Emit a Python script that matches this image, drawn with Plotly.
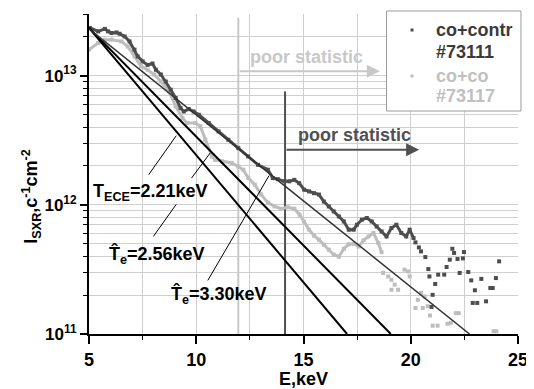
import numpy as np
import plotly.graph_objects as go

# ---------------- data ----------------
# co+contr #73111 (dark): dense part
dark_E = [5.05, 5.43, 5.74, 5.89, 6.05, 6.28, 6.43, 6.66, 6.89, 7.12, 7.27, 7.50, 7.73, 7.96,
          8.12, 8.35, 8.58, 8.81, 9.04, 9.27, 9.42, 9.65, 9.88, 10.12, 10.58, 11.04, 11.50,
          11.96, 12.42, 12.88, 13.34, 13.57, 13.80, 14.11, 14.34, 14.57, 14.80, 15.03, 15.26,
          15.49, 15.72, 15.95, 16.18, 16.41, 16.65, 16.88, 17.11, 17.34, 17.49, 17.72, 17.95,
          18.18, 18.41, 18.64, 18.87, 19.10, 19.33, 19.56, 19.79, 19.95, 20.13]
dark_I = [2.34e13, 2.20e13, 2.30e13, 2.20e13, 2.14e13, 2.16e13, 2.11e13, 2.01e13, 1.84e13,
          1.59e13, 1.41e13, 1.29e13, 1.21e13, 1.24e13, 1.11e13, 1.02e13, 9.0e12, 7.78e12,
          6.71e12, 5.61e12, 5.28e12, 5.51e12, 5.28e12, 4.98e12, 4.30e12, 3.70e12, 3.19e12,
          2.75e12, 2.37e12, 2.04e12, 1.87e12, 1.61e12, 1.58e12, 1.52e12, 1.52e12, 1.56e12,
          1.47e12, 1.31e12, 1.27e12, 1.23e12, 1.20e12, 1.06e12, 9.72e11, 8.89e11, 8.13e11,
          7.44e11, 6.42e11, 6.42e11, 7.01e11, 7.67e11, 7.91e11, 7.44e11, 6.80e11, 6.22e11,
          5.69e11, 6.61e11, 7.01e11, 6.05e11, 5.69e11, 6.42e11, 5.53e11]
# dark: scattered tail
dark_tail_E = [20.22, 20.38, 20.48, 20.68, 20.82, 20.87, 21.14, 21.02, 20.97, 21.28, 21.56,
               21.67, 21.82, 21.94, 22.02, 22.18, 22.43, 22.48, 22.28, 22.68, 22.82, 22.99,
               22.89, 23.10, 23.29, 23.51, 23.71, 23.82, 23.97, 24.12]
dark_tail_I = [5.12e11, 4.68e11, 4.36e11, 3.94e11, 3.18e11, 2.79e11, 2.44e11, 2.01e11, 1.62e11,
               2.88e11, 2.88e11, 3.30e11, 3.76e11, 4.57e11, 4.24e11, 3.81e11, 3.85e11, 4.31e11,
               2.97e11, 3.02e11, 2.60e11, 2.18e11, 1.74e11, 1.74e11, 2.67e11, 1.79e11, 2.27e11,
               2.27e11, 2.71e11, 3.65e11]

# co+co #73117 (light): dense part
light_E = [5.0, 5.43, 5.74, 6.05, 6.51, 6.81, 7.12, 7.43, 7.73, 8.04, 8.35, 8.73, 9.04, 9.35,
           9.58, 9.96, 10.19, 10.42, 10.73, 10.88, 11.19, 11.65, 11.96, 12.19, 12.42, 12.73,
           13.03, 13.34, 13.65, 13.95, 14.26, 14.57, 14.82, 15.03, 15.26, 15.49, 15.72, 15.95,
           16.18, 16.41, 16.65, 16.88, 17.11, 17.34, 17.57, 17.80, 18.03, 18.26, 18.49, 18.64]
light_I = [1.59e13, 1.79e13, 1.90e13, 1.90e13, 1.84e13, 1.68e13, 1.41e13, 1.18e13, 1.11e13,
           1.02e13, 9.0e12, 7.55e12, 5.78e12, 4.70e12, 4.30e12, 4.30e12, 4.05e12, 3.19e12,
           2.37e12, 2.23e12, 2.17e12, 2.11e12, 1.98e12, 1.87e12, 1.62e12, 1.43e12, 1.20e12,
           1.04e12, 9.72e11, 9.33e11, 9.58e11, 9.33e11, 8.38e11, 7.40e11, 6.42e11, 5.77e11,
           5.37e11, 4.91e11, 4.49e11, 4.11e11, 3.97e11, 4.57e11, 4.95e11, 5.00e11, 4.76e11,
           5.32e11, 5.69e11, 6.05e11, 5.06e11, 4.30e11]
light_tail_E = [18.71, 18.95, 19.10, 19.25, 19.41, 19.10, 19.71, 19.87, 19.95, 20.22, 20.33,
                20.48, 20.64, 20.56, 20.79, 20.90, 21.02, 21.25, 21.71, 21.87, 22.10, 22.24,
                23.86, 23.99]
light_tail_I = [2.97e11, 2.79e11, 2.63e11, 2.41e11, 2.20e11, 2.20e11, 3.15e11, 3.05e11, 2.79e11,
                1.59e11, 1.84e11, 2.08e11, 1.95e11, 1.59e11, 1.64e11, 1.39e11, 1.16e11, 1.16e11,
                1.20e11, 1.22e11, 1.45e11, 1.45e11, 1.05e11, 1.05e11]

# exponential fits (end points of the straight lines on the log plot)
fit_names = ["T_ECE=2.21keV", "T_e=2.56keV", "T_e=3.30keV"]
fit_E = [[5.0, 17.03], [5.0, 19.07], [5.0, 22.74]]
fit_I = [[2.34e13, 1e11], [2.34e13, 1e11], [2.30e13, 1e11]]

# label leader lines
pointer_E = [[7.78, 9.07], [8.00, 9.07], [9.78, 10.65], [10.54, 13.39]]
pointer_I = [[1.71e12, 3.43e12], [5.69e11, 1.01e12], [1.61e12, 2.52e12], [2.60e11, 1.68e12]]

# "poor statistic" markers
poor_dark_E, poor_dark_Itop, poor_dark_arrowI, poor_dark_arrowE = 14.14, 7.55e12, 2.67e12, 20.39
poor_light_E, poor_light_Itop, poor_light_arrowI, poor_light_arrowE = 11.96, 2.81e13, 1.08e13, 18.56

x_ticks = [5, 10, 15, 20, 25]
x_minor = [7.5, 12.5, 17.5, 22.5]
y_ticks = [1e11, 1e12, 1e13]
y_ticktext = ["<b>10<sup>11</sup></b>", "<b>10<sup>12</sup></b>", "<b>10<sup>13</sup></b>"]
y_minor = [m * 10 ** d for d in (11, 12) for m in range(2, 10)] + [2e13, 3e13]

DARK = "#4d4d4d"
LIGHT = "#bdbdbd"
GRID = "#cfcfcf"
FONT = "Liberation Sans"

# ---------------- figure ----------------
# page has an 8px body margin; plot area in page pixels: x 89..523, y 14..334
OFF = 8
PL, PR, PT, PB = 89, 523, 14, 334
W, H = 534 - OFF, 389 - OFF
PW, PH = PR - PL, PB - PT


def px(x):
    return (x - PL) / PW


def py(y):
    return (PB - y) / PH


def label(x, y, text, color, xanchor="center", **kw):
    return dict(x=px(x), y=py(y), xref="paper", yref="paper", xanchor=xanchor,
                yanchor="middle", text=text, showarrow=False,
                font=dict(family=FONT, size=18, weight="bold", color=color), **kw)


fig = go.Figure()

# poor-statistic vertical lines
fig.add_trace(go.Scatter(x=[poor_light_E, poor_light_E], y=[poor_light_Itop, 1e11], mode="lines",
                         line=dict(color="#c8c8c8", width=2), showlegend=False, hoverinfo="skip"))
fig.add_trace(go.Scatter(x=[poor_dark_E, poor_dark_E], y=[poor_dark_Itop, 1e11], mode="lines",
                         line=dict(color="#505050", width=2), showlegend=False, hoverinfo="skip"))

# data
fig.add_trace(go.Scatter(x=light_E, y=light_I, mode="lines+markers", name="co+co #73117",
                         line=dict(color=LIGHT, width=3),
                         marker=dict(symbol="square", size=4, color=LIGHT),
                         legendgroup="b", showlegend=False))
fig.add_trace(go.Scatter(x=light_tail_E, y=light_tail_I, mode="markers", name="co+co #73117",
                         marker=dict(symbol="square", size=4, color=LIGHT),
                         legendgroup="b", showlegend=False))
fig.add_trace(go.Scatter(x=dark_E, y=dark_I, mode="lines+markers", name="co+contr #73111",
                         line=dict(color=DARK, width=3),
                         marker=dict(symbol="square", size=4, color=DARK),
                         legendgroup="a", showlegend=False))
fig.add_trace(go.Scatter(x=dark_tail_E, y=dark_tail_I, mode="markers", name="co+contr #73111",
                         marker=dict(symbol="square", size=4, color=DARK),
                         legendgroup="a", showlegend=False))

# fits
fit_style = [dict(color="black", width=2), dict(color="black", width=2), dict(color="#333333", width=1.5)]
for nm, xe, yi, st in zip(fit_names, fit_E, fit_I, fit_style):
    fig.add_trace(go.Scatter(x=xe, y=yi, mode="lines", name=nm, line=st, showlegend=False))

# leader lines
for xe, yi in zip(pointer_E, pointer_I):
    fig.add_trace(go.Scatter(x=xe, y=yi, mode="lines", line=dict(color="black", width=1),
                             showlegend=False, hoverinfo="skip"))

annots = []
# arrows
annots.append(dict(x=poor_dark_arrowE, y=np.log10(poor_dark_arrowI), ax=poor_dark_E,
                   ay=np.log10(poor_dark_arrowI), xref="x", yref="y", axref="x", ayref="y",
                   text="", showarrow=True, arrowhead=2, arrowsize=1.3, arrowwidth=2,
                   arrowcolor="#505050"))
annots.append(dict(x=poor_light_arrowE, y=np.log10(poor_light_arrowI), ax=poor_light_E,
                   ay=np.log10(poor_light_arrowI), xref="x", yref="y", axref="x", ayref="y",
                   text="", showarrow=True, arrowhead=2, arrowsize=1.3, arrowwidth=2,
                   arrowcolor="#c8c8c8"))
annots.append(label(358, 135, "poor statistic", "#505050"))
annots.append(label(309, 57, "poor statistic", "#c8c8c8"))

# fit labels
annots.append(label(91, 192, "T<sub>ECE</sub>=2.21keV", "black", xanchor="left"))
annots.append(label(107, 255, "T\u0302<sub>e</sub>=2.56keV", "black", xanchor="left"))
annots.append(label(170, 295, "T\u0302<sub>e</sub>=3.30keV", "black", xanchor="left"))

# axis titles
annots.append(label(30, 197, "I<sub>SXR</sub>,c<sup>-1</sup>cm<sup>-2</sup>", "black", textangle=-90))
annots.append(label(306, 379, "E,keV", "black"))

# legend (drawn box)
shapes = [dict(type="rect", xref="paper", yref="paper", x0=px(390), x1=px(526), y0=py(111), y1=py(11),
               line=dict(color="#9a9a9a", width=1), fillcolor="white", layer="above")]
for yy, col in ((30, DARK), (76, LIGHT)):
    shapes.append(dict(type="rect", xref="paper", yref="paper", x0=px(414.3), x1=px(417.3),
                       y0=py(yy + 1.5), y1=py(yy - 1.5), line=dict(width=0), fillcolor=col,
                       layer="above"))
for txt, yy, col in (("co+contr", 30, "#3a3a3a"), ("#73111", 52, "#3a3a3a"),
                     ("co+co", 76, "#c0c0c0"), ("#73117", 96, "#c0c0c0")):
    annots.append(label(438, yy, txt, col, xanchor="left"))

fig.update_layout(
    width=W, height=H,
    margin=dict(l=PL - OFF, r=W - (PR - OFF), t=PT - OFF, b=H - (PB - OFF), pad=0),
    paper_bgcolor="white", plot_bgcolor="white",
    annotations=annots, shapes=shapes, showlegend=False,
    xaxis=dict(range=[5, 25], tickvals=x_ticks, ticktext=[f"<b>{v}</b>" for v in x_ticks],
               tickfont=dict(family=FONT, size=18, color="black"),
               showline=True, linecolor="black", linewidth=2, ticks="outside", ticklen=8,
               tickwidth=2, tickcolor="black", showgrid=True, gridcolor=GRID, gridwidth=1,
               zeroline=False,
               minor=dict(tickvals=x_minor, ticks="outside", ticklen=4, tickwidth=1,
                          tickcolor="black", showgrid=True, gridcolor=GRID, gridwidth=1)),
    yaxis=dict(type="log", range=[11, np.log10(3e13)], tickvals=y_ticks, ticktext=y_ticktext,
               tickfont=dict(family=FONT, size=17, color="black"),
               showline=True, linecolor="black", linewidth=2, ticks="outside", ticklen=7,
               tickwidth=2, tickcolor="black", showgrid=True, gridcolor=GRID, gridwidth=1,
               zeroline=False,
               minor=dict(tickvals=y_minor, ticks="outside", ticklen=4, tickwidth=1,
                          tickcolor="black", showgrid=True, gridcolor=GRID, gridwidth=1)),
)

fig.write_html("out.html")
